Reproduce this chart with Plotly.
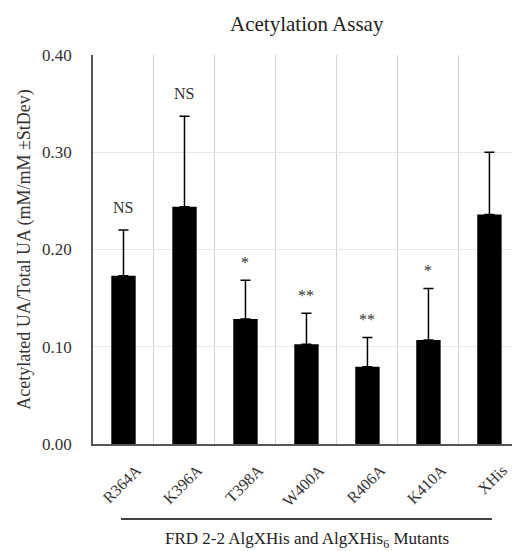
import plotly.graph_objects as go

categories = ["R364A", "K396A", "T398A", "W400A", "R406A", "K410A", "XHis"]
means = [0.173, 0.244, 0.1285, 0.1025, 0.0795, 0.107, 0.236]
stdevs = [0.047, 0.093, 0.040, 0.032, 0.030, 0.053, 0.064]
sig_labels = ["NS", "NS", "*", "**", "**", "*", ""]
y_ticks = [0.0, 0.1, 0.2, 0.3, 0.4]

FONT = "Liberation Serif"

fig = go.Figure()
fig.add_trace(go.Bar(
    x=categories, y=means,
    marker=dict(color="black", line=dict(width=0)),
    width=0.4,
    error_y=dict(type="data", array=stdevs, arrayminus=[0]*len(stdevs),
                 symmetric=False, color="black", thickness=1.5, width=5),
))

for c, m, s, lab in zip(categories, means, stdevs, sig_labels):
    if not lab:
        continue
    fig.add_annotation(x=c, y=m + s, text=lab, showarrow=False,
                       yanchor="middle", yshift=23 if lab == "NS" else 18,
                       font=dict(family=FONT, size=16, color="#333"))

fig.add_annotation(xref="paper", yref="paper", x=0.51, y=1, yshift=31,
                   text="Acetylation Assay", showarrow=False, yanchor="middle",
                   font=dict(family=FONT, size=21, color="#222"))
fig.add_annotation(xref="paper", yref="paper", x=0.51, y=-0.193, yshift=-21,
                   text="FRD 2-2 AlgXHis and AlgXHis<sub>6</sub> Mutants", showarrow=False,
                   yanchor="middle", font=dict(family=FONT, size=17, color="#222"))
fig.add_shape(type="line", xref="paper", yref="paper", x0=0.0668, x1=0.952,
              y0=-0.193, y1=-0.193, line=dict(color="black", width=1.5))

fig.update_layout(
    width=512, height=551,
    margin=dict(l=93, r=0, t=55, b=107),
    plot_bgcolor="white", paper_bgcolor="white",
    showlegend=False,
    font=dict(family=FONT, size=17, color="#333"),
    xaxis=dict(
        type="category", range=[-0.5, 6.37], tickson="boundaries",
        showgrid=True, gridcolor="#d4d4d4", gridwidth=1,
        showline=True, linecolor="#555", linewidth=1.5,
        ticks="", tickangle=-45, ticklabelshift=13, ticklabelstandoff=9,
        tickfont=dict(family=FONT, size=16, color="#333"),
    ),
    yaxis=dict(
        range=[0, 0.4], tickvals=y_ticks, tickformat=".2f",
        showgrid=True, gridcolor="#e8e8e8", gridwidth=1,
        showline=True, linecolor="#555", linewidth=1.5,
        ticks="", ticklabelstandoff=16, zeroline=False,
        tickfont=dict(family=FONT, size=17, color="#333"),
        title=dict(text="Acetylated UA/Total UA (mM/mM ±StDev)", standoff=7,
                   font=dict(family=FONT, size=18, color="#333")),
    ),
)

fig.write_html("out.html", config={"displayModeBar": False},
               post_script="document.body.style.margin='0';")
